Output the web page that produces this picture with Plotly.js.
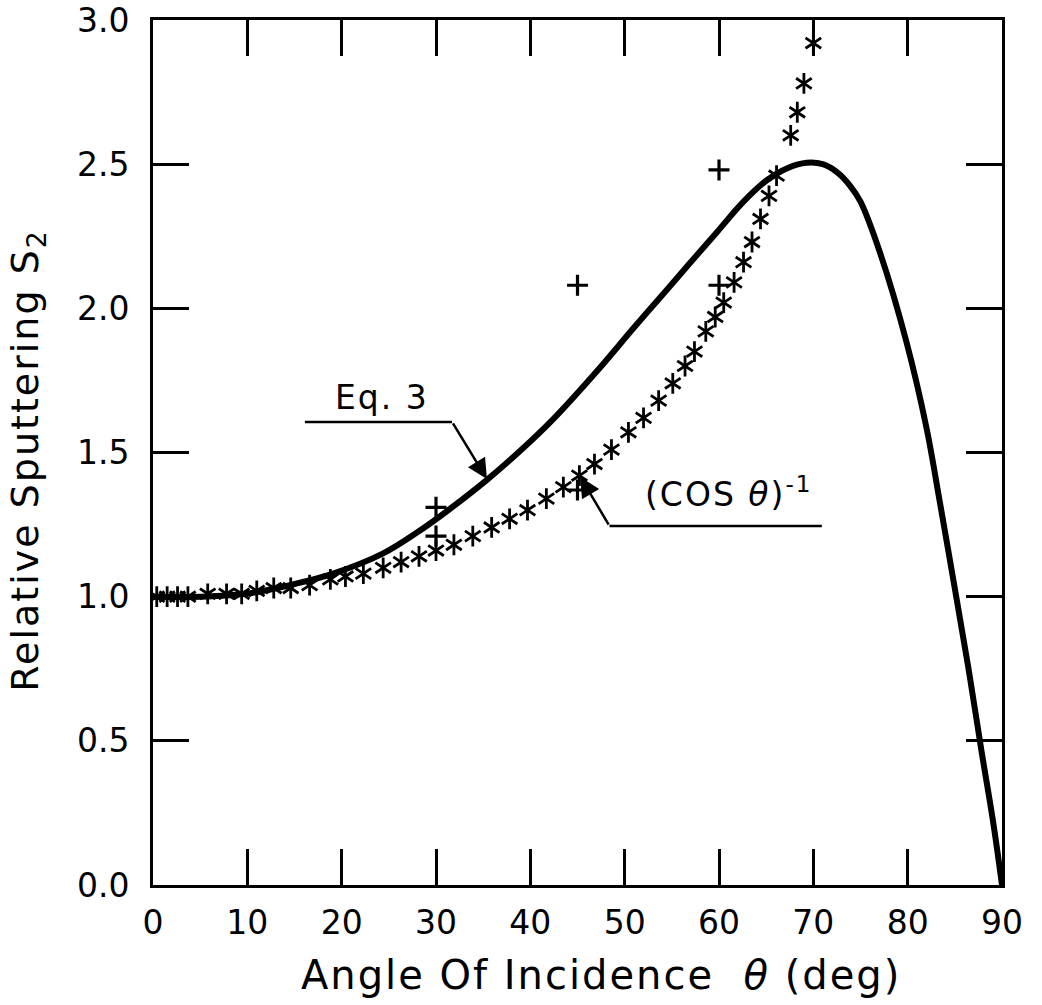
<!DOCTYPE html>
<html>
<head>
<meta charset="utf-8">
<script src="https://cdn.plot.ly/plotly-3.0.1.min.js"></script>
<style>
  html, body { margin: 0; padding: 0; background: #fff; }
  #chart { width: 1042px; height: 1005px; }
  .annotation-text { letter-spacing: 2px; }
</style>
</head>
<body>
<div id="chart"></div>
<script>
// Eq. 3 curve (relative sputtering vs angle of incidence)
const eqX = [0, 5, 10.3, 14.5, 19.1, 24.4, 28.1, 31.5, 35.4, 38.9, 42.4, 47.4, 50.9, 54.5, 56.6, 59.8, 62.6, 65.1, 67.3, 69.3, 71.0, 72.6, 73.9, 75.0, 77.1, 79.9, 82.0, 83.4, 85.2, 86.6, 87.8, 89.1, 90];
const eqY = [1.00, 1.00, 1.012, 1.04, 1.08, 1.15, 1.225, 1.305, 1.405, 1.505, 1.615, 1.795, 1.93, 2.065, 2.145, 2.265, 2.37, 2.445, 2.487, 2.505, 2.50, 2.47, 2.425, 2.37, 2.19, 1.88, 1.585, 1.33, 0.99, 0.72, 0.47, 0.21, 0];

// (cos theta)^-1 asterisks
const starX = [0.4, 1.5, 2.6, 3.7, 5.8, 7.8, 9.4, 11.0, 12.8, 14.6, 16.6, 18.8, 20.4, 22.3, 24.4, 26.3, 28.2, 30.0, 31.9, 33.9, 35.9, 37.8, 39.7, 41.7, 43.5, 45.2, 46.8, 48.6, 50.4, 52.0, 53.6, 55.1, 56.4, 57.4, 58.6, 59.6, 60.5, 61.6, 62.6, 63.5, 64.4, 65.3, 66.1, 67.6, 68.3, 69.0, 70.0];
const starY = [1.00, 1.00, 1.00, 1.00, 1.01, 1.01, 1.01, 1.02, 1.03, 1.03, 1.04, 1.06, 1.07, 1.08, 1.10, 1.12, 1.14, 1.16, 1.18, 1.21, 1.24, 1.27, 1.30, 1.34, 1.38, 1.42, 1.46, 1.51, 1.57, 1.62, 1.68, 1.74, 1.80, 1.85, 1.92, 1.97, 2.02, 2.09, 2.16, 2.23, 2.31, 2.39, 2.46, 2.60, 2.68, 2.78, 2.92];

// "+" data points
const plusX = [30, 30, 45, 45, 60, 60];
const plusY = [1.31, 1.21, 2.08, 1.37, 2.48, 2.08];

// Axis ticks
const xTicks = [0, 10, 20, 30, 40, 50, 60, 70, 80, 90];
const yTicks = [0, 0.5, 1.0, 1.5, 2.0, 2.5, 3.0];
const yTickText = ["0.0", "0.5", "1.0", "1.5", "2.0", "2.5", "3.0"];

// Texts
const xTitle = "Angle Of Incidence\u00a0\u00a0<i>θ</i> (deg)";
const yTitle = "Relative Sputtering S<sub>2</sub>";
const eqLabel = "Eq. 3";
const cosLabel = "(COS <i>θ</i>)<sup>-1</sup>";

const FONT = "DejaVu Sans, Liberation Sans, sans-serif";

const starMarker = (sym) => ({ symbol: sym, size: 13, color: "#000", line: { color: "#000", width: 2.8 } });

const traces = [
  {
    x: eqX, y: eqY, mode: "lines", type: "scatter",
    line: { color: "#000", width: 6, shape: "spline", smoothing: 1 },
    hoverinfo: "skip"
  },
  { x: starX, y: starY, mode: "markers", type: "scatter", marker: starMarker("y-up-open"), hoverinfo: "skip" },
  { x: starX, y: starY, mode: "markers", type: "scatter", marker: starMarker("y-down-open"), hoverinfo: "skip" },
  {
    x: plusX, y: plusY, mode: "markers", type: "scatter",
    marker: { symbol: "cross-thin-open", size: 15, color: "#000", line: { color: "#000", width: 3.2 } },
    hoverinfo: "skip"
  }
];

const layout = {
  width: 1042, height: 1005,
  margin: { l: 153, r: 40, t: 20, b: 120 },
  paper_bgcolor: "#fff", plot_bgcolor: "#fff",
  showlegend: false,
  font: { family: FONT, color: "#000" },
  xaxis: {
    range: [0, 90], autorange: false,
    tickmode: "array", tickvals: xTicks, ticktext: xTicks.map(String),
    ticks: "inside", ticklen: 36, tickwidth: 3, tickcolor: "#000",
    showline: true, linewidth: 3, linecolor: "#000", mirror: "ticks",
    showgrid: false, zeroline: false,
    tickfont: { family: FONT, size: 33, color: "#000" },
    ticklabelstandoff: 6,
    automargin: false
  },
  yaxis: {
    range: [0, 3], autorange: false,
    tickmode: "array", tickvals: yTicks, ticktext: yTickText,
    ticks: "inside", ticklen: 36, tickwidth: 3, tickcolor: "#000",
    showline: true, linewidth: 3, linecolor: "#000", mirror: "ticks",
    showgrid: false, zeroline: false,
    tickfont: { family: FONT, size: 33, color: "#000" },
    ticklabelstandoff: 14,
    automargin: false
  },
  shapes: [
    { type: "line", xref: "x", yref: "y", x0: 16.1, y0: 1.606, x1: 31.7, y1: 1.606, line: { color: "#000", width: 2.5 } },
    { type: "line", xref: "x", yref: "y", x0: 48.4, y0: 1.245, x1: 70.9, y1: 1.245, line: { color: "#000", width: 2.5 } }
  ],
  annotations: [
    { xref: "paper", yref: "paper", x: 0.528, y: -0.104, xanchor: "center", yanchor: "middle",
      text: xTitle, showarrow: false, font: { family: FONT, size: 40, color: "#000" } },
    { xref: "paper", yref: "paper", x: -0.148, y: 0.491, xanchor: "center", yanchor: "middle", textangle: -90,
      text: yTitle, showarrow: false, font: { family: FONT, size: 38, color: "#000" } },
    { x: 24.3, y: 1.69, xref: "x", yref: "y", text: eqLabel, showarrow: false,
      font: { family: FONT, size: 33, color: "#000" } },
    { x: 35.4, y: 1.408, xref: "x", yref: "y", ax: 31.7, ay: 1.606, axref: "x", ayref: "y",
      text: "", showarrow: true, arrowhead: 2, arrowsize: 1.6, arrowwidth: 2.5, arrowcolor: "#000", standoff: 0, startstandoff: 0 },
    { x: 61.0, y: 1.36, xref: "x", yref: "y", text: cosLabel, showarrow: false,
      font: { family: FONT, size: 33, color: "#000" } },
    { x: 45.3, y: 1.415, xref: "x", yref: "y", ax: 48.4, ay: 1.245, axref: "x", ayref: "y",
      text: "", showarrow: true, arrowhead: 2, arrowsize: 1.6, arrowwidth: 2.5, arrowcolor: "#000", standoff: 0, startstandoff: 0 }
  ]
};

Plotly.newPlot("chart", traces, layout, { staticPlot: true, displayModeBar: false });
</script>
</body>
</html>
